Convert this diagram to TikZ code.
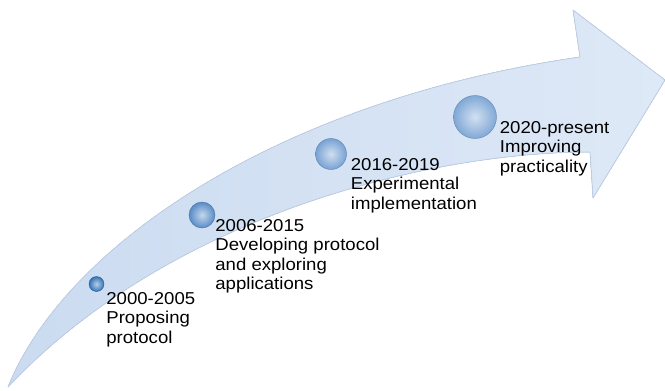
\documentclass[tikz,border=0pt]{standalone}
\usepackage{fontspec}
\setmainfont{Liberation Sans}[FakeStretch=1.08]
\usetikzlibrary{positioning}

\definecolor{arrowL}{RGB}{203,219,240}
\definecolor{arrowR}{RGB}{222,233,247}
\definecolor{arrowedge}{RGB}{190,207,231}
\definecolor{rimA}{RGB}{52,116,184}
\definecolor{rimB}{RGB}{88,140,200}
\definecolor{rimC}{RGB}{120,162,212}
\definecolor{rimD}{RGB}{128,168,214}

\tikzset{
  stone/.style={circle,inner sep=0pt,shading=radial},
  era/.style={anchor=north west,inner sep=0pt,align=left,
    font=\fontsize{17.2}{19.4}\selectfont}
}

\begin{document}
\begin{tikzpicture}[x=1pt,y=-1pt]
  \useasboundingbox (0,0) rectangle (665,391);

  % curved arrow
  \fill[left color=arrowL,right color=arrowR]
    (8,387) .. controls (65,245) and (280,100) .. (580,57)
    -- (573,10) -- (665,80) -- (593,198) -- (590,152)
    .. controls (430,152) and (170,215) .. (8,387) -- cycle;
  \draw[arrowedge,line width=0.8pt,line join=round]
    (8,387) .. controls (65,245) and (280,100) .. (580,57)
    -- (573,10) -- (665,80) -- (593,198) -- (590,152)
    .. controls (430,152) and (170,215) .. (8,387) -- cycle;

  % milestones
  \foreach \i/\pos/\d/\c in {1/{(96.5,284)}/15/rimA,2/{(202,215)}/26/rimB,
                            3/{(331,154)}/31/rimC,4/{(475,117)}/43/rimD}
    \node[stone,minimum size=\d pt,inner color=\c!35!white,outer color=\c,
      draw=\c!80!black,line width=0.4pt] (b\i) at \pos {};

  \node[era] (t1) at ([shift={(2,8)}]b1.east) {2000-2005\\Proposing\\protocol};
  \node[era] (t2) at ([shift={(0,4)}]b2.east) {2006-2015\\Developing protocol\\and exploring\\applications};
  \node[era] (t3) at ([shift={(4,4)}]b3.east) {2016-2019\\Experimental\\implementation};
  \node[era] (t4) at ([shift={(3,4)}]b4.east) {2020-present\\Improving\\practicality};
\end{tikzpicture}
\end{document}
